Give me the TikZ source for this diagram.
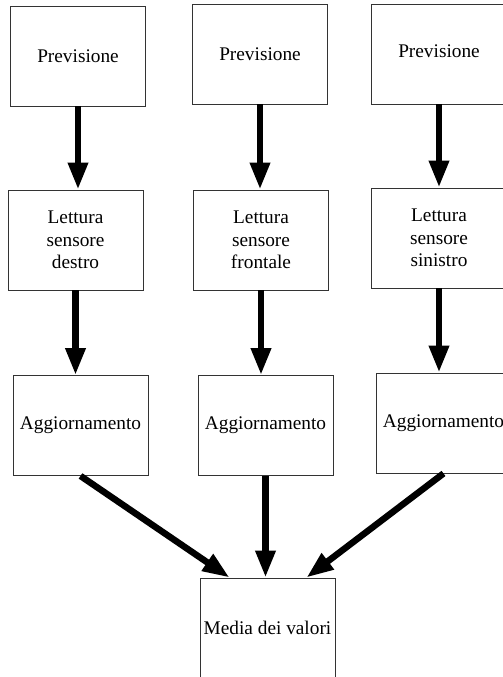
\documentclass[tikz,border=0pt]{standalone}
\usepackage{fontspec}
\setmainfont{Liberation Serif}
\usepackage{tikz}
\usetikzlibrary{
    arrows.meta,
    positioning,
}

\begin{document}
\begin{tikzpicture}[
        x=1pt, y=-1pt,
        stage/.style={
            rectangle, draw=black!80, line width=0.9pt, fill=white,
            minimum width=135pt, minimum height=100pt, inner sep=0pt,
            align=center, font=\fontsize{19.3}{22.5}\selectfont
        },
        flow/.style={
            -{Triangle[length=27pt, width=19pt]}, line width=6.5pt, black
        },
    ]

    \useasboundingbox (0,0) rectangle (503,677);
    \clip (0,0) rectangle (503,677);

    % ── Row 1: Previsione ──
    \node[stage] (prevDx)  at (78,56)  {Previsione};
    \node[stage] (prevFr)  at (260,54) {Previsione};
    \node[stage] (prevSx)  at (439,54) {\raisebox{5pt}{Previsione}};

    % ── Row 2: Lettura sensore ──
    \node[stage] (letDx) at (75.5,240) {Lettura\\sensore\\destro};
    \node[stage] (letFr) at (261,240)  {Lettura\\sensore\\frontale};
    \node[stage] (letSx) at (439,238)  {Lettura\\sensore\\sinistro};

    % ── Row 3: Aggiornamento ──
    \node[stage] (aggDx) at (80.5,425.5)  {Aggiornamento};
    \node[stage] (aggFr) at (265.5,425.5) {Aggiornamento};
    \node[stage] (aggSx) at (443.5,423)   {\raisebox{3pt}{Aggiornamento}};

    % ── Row 4: Media ──
    \node[stage] (media) at (267.5,628) {Media dei valori};

    % ── Arrows ──
    \draw[flow] (prevDx.south) -- (prevDx.south |- letDx.north);
    \draw[flow] (prevFr.south) -- (prevFr.south |- letFr.north);
    \draw[flow] (prevSx.south) -- (prevSx.south |- letSx.north);

    \draw[flow] (letDx.south) -- (letDx.south |- aggDx.north);
    \draw[flow] (letFr.south) -- (letFr.south |- aggFr.north);
    \draw[flow] (letSx.south) -- (letSx.south |- aggSx.north);

    \draw[flow] (aggDx.south) -- ([xshift=30pt]media.north west);
    \draw[flow] (aggFr.south) -- (aggFr.south |- media.north);
    \draw[flow] (aggSx.south) -- ([xshift=-29pt]media.north east);

\end{tikzpicture}
\end{document}
